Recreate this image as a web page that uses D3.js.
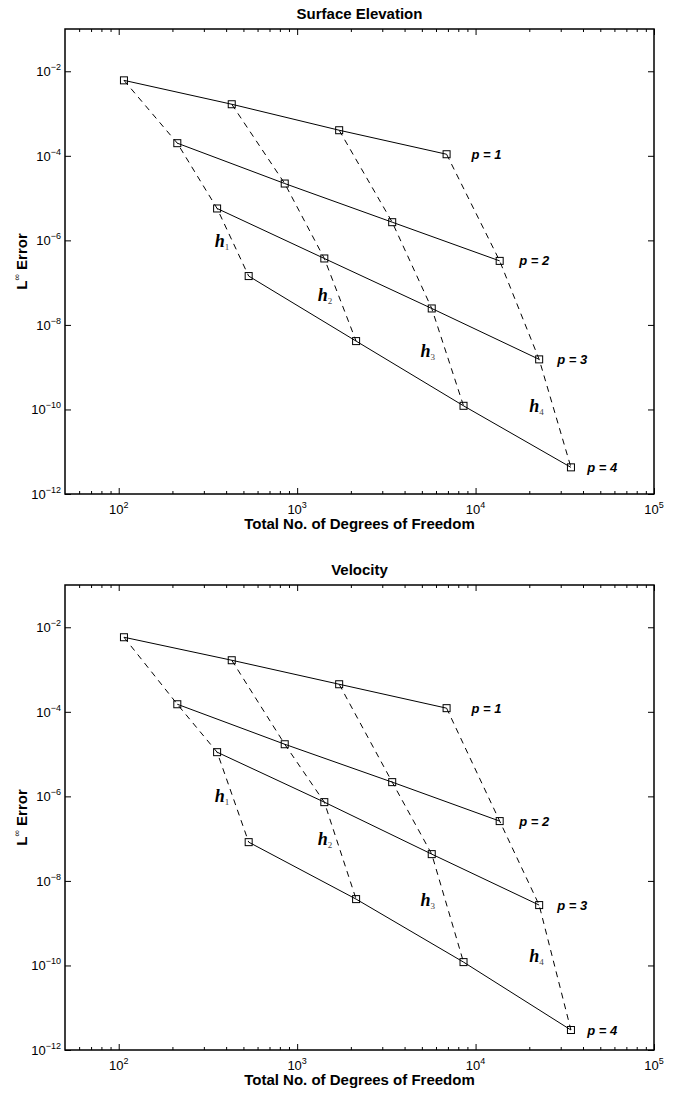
<!DOCTYPE html>
<html>
<head>
<meta charset="utf-8">
<script src="https://cdn.jsdelivr.net/npm/d3@7"></script>
<style>
  body { margin: 0; background: #fff; }
  text { fill: #000; }
</style>
</head>
<body>
<div id="canvas"></div>
<script>
// degrees of freedom for each order p (same meshes in both panels)
const dofP1 = [107, 430, 1720, 6880];
const dofP2 = [213, 852, 3410, 13650];
const dofP3 = [356, 1420, 5680, 22720];
const dofP4 = [535, 2140, 8560, 34240];

// surface elevation errors
const surfP1 = [6.1e-3, 1.66e-3, 4.03e-4, 1.09e-4];
const surfP2 = [1.99e-4, 2.21e-5, 2.69e-6, 3.27e-7];
const surfP3 = [5.68e-6, 3.73e-7, 2.45e-8, 1.53e-9];
const surfP4 = [1.43e-7, 4.14e-9, 1.22e-10, 4.27e-12];

// velocity errors
const velP1 = [5.81e-3, 1.66e-3, 4.49e-4, 1.22e-4];
const velP2 = [1.51e-4, 1.71e-5, 2.17e-6, 2.6e-7];
const velP3 = [1.11e-5, 7.3e-7, 4.3e-8, 2.68e-9];
const velP4 = [8.26e-8, 3.71e-9, 1.2e-10, 2.97e-12];

// annotation anchors (data coords)
const pLabels = ["p = 1", "p = 2", "p = 3", "p = 4"];
const pLabelX = [9480, 17580, 28700, 42240];
const hLabelX = [345, 1303, 4910, 20000];
const surfHLabelY = [9.06e-7, 4.8e-8, 2.28e-9, 1.14e-10];
const velHLabelY = [9.6e-7, 9.2e-8, 3.3e-9, 1.58e-10];

const xTickVals = [1e2, 1e3, 1e4, 1e5];
const xTickExp = ["2", "3", "4", "5"];
const yTickVals = [1e-2, 1e-4, 1e-6, 1e-8, 1e-10, 1e-12];
const yTickExp = ["\u22122", "\u22124", "\u22126", "\u22128", "\u221210", "\u221212"];

const W = 678, H = 1093;
const left = 65, right = 654, ph = 465;
const SANS = "'Liberation Sans', Arial, Helvetica, sans-serif";
const SERIF = "'Liberation Serif', 'Times New Roman', serif";

const svg = d3.select("#canvas").append("svg")
  .attr("width", W).attr("height", H)
  .style("font-family", SANS);
svg.append("rect").attr("width", W).attr("height", H).attr("fill", "#fff");

function panel(top, title, errs, hY) {
  const g = svg.append("g").attr("transform", `translate(0,${top})`);
  const x = d3.scaleLog().domain([50, 1e5]).range([left, right]);
  const y = d3.scaleLog().domain([1e-12, 1e-1]).range([ph, 0]);

  const minor = x.ticks().filter(v => Math.abs(Math.log10(v) % 1) > 1e-6 && v > 50 && v < 1e5);

  // ticks, pointing inwards on all four sides
  const ax = [
    [d3.axisBottom(x).tickValues(xTickVals).tickSize(-6), `translate(0,${ph})`],
    [d3.axisBottom(x).tickValues(minor).tickSize(-3), `translate(0,${ph})`],
    [d3.axisTop(x).tickValues(xTickVals).tickSize(-6), `translate(0,0)`],
    [d3.axisTop(x).tickValues(minor).tickSize(-3), `translate(0,0)`],
    [d3.axisLeft(y).tickValues(yTickVals).tickSize(-6), `translate(${left},0)`],
    [d3.axisRight(y).tickValues(yTickVals).tickSize(-6), `translate(${right},0)`]
  ];
  ax.forEach(([a, t]) => {
    const s = g.append("g").attr("transform", t).call(a.tickSizeOuter(0).tickFormat(""));
    s.select(".domain").remove();
    s.selectAll("line").attr("stroke", "#000").attr("stroke-width", 1);
  });

  g.append("rect")
    .attr("x", left).attr("y", 0)
    .attr("width", right - left).attr("height", ph)
    .attr("fill", "none").attr("stroke", "#000").attr("stroke-width", 1.5);

  // tick labels
  xTickVals.forEach((v, i) => {
    const t = g.append("text").attr("x", x(v)).attr("y", ph + 20)
      .attr("text-anchor", "middle").attr("font-size", 13);
    t.append("tspan").text("10");
    t.append("tspan").attr("dy", -6).attr("font-size", 9).text(xTickExp[i]);
  });
  yTickVals.forEach((v, i) => {
    const t = g.append("text").attr("x", left - 4).attr("y", y(v) + 5)
      .attr("text-anchor", "end").attr("font-size", 13);
    t.append("tspan").text("10");
    t.append("tspan").attr("dy", -6).attr("font-size", 9).text(yTickExp[i]);
  });

  // titles
  g.append("text").attr("x", (left + right) / 2).attr("y", -10)
    .attr("text-anchor", "middle").attr("font-size", 15).attr("font-weight", "bold")
    .text(title);
  g.append("text").attr("x", (left + right) / 2).attr("y", ph + 35)
    .attr("text-anchor", "middle").attr("font-size", 15).attr("font-weight", "bold")
    .text("Total No. of Degrees of Freedom");
  const yl = g.append("text")
    .attr("transform", `translate(27,${ph / 2}) rotate(-90)`)
    .attr("text-anchor", "middle").attr("font-size", 15).attr("font-weight", "bold");
  yl.append("tspan").text("L");
  yl.append("tspan").attr("dy", -7).attr("font-size", 9).attr("font-weight", "normal").text("\u221e");
  yl.append("tspan").attr("dy", 7).text(" Error");

  const dofs = [dofP1, dofP2, dofP3, dofP4];
  const line = d3.line().x(d => x(d[0])).y(d => y(d[1]));

  // dashed lines: same refinement level h_k across orders
  for (let k = 0; k < 4; k++) {
    const pts = dofs.map((d, i) => [d[k], errs[i][k]]);
    g.append("path").attr("d", line(pts))
      .attr("fill", "none").attr("stroke", "#000").attr("stroke-width", 1)
      .attr("stroke-dasharray", "6,5");
  }
  // solid lines: one per order p
  dofs.forEach((d, i) => {
    const pts = d.map((v, k) => [v, errs[i][k]]);
    g.append("path").attr("d", line(pts))
      .attr("fill", "none").attr("stroke", "#000").attr("stroke-width", 1);
    g.selectAll(null).data(pts).enter().append("rect")
      .attr("x", p => x(p[0]) - 3.5).attr("y", p => y(p[1]) - 3.5)
      .attr("width", 7).attr("height", 7)
      .attr("fill", "none").attr("stroke", "#000").attr("stroke-width", 1);
  });

  // p labels
  pLabels.forEach((s, i) => {
    g.append("text").attr("x", x(pLabelX[i])).attr("y", y(errs[i][3]) + 4.5)
      .attr("font-size", 13).attr("font-weight", "bold").attr("font-style", "italic")
      .text(s);
  });
  // h labels
  hLabelX.forEach((v, k) => {
    const t = g.append("text").attr("x", x(v)).attr("y", y(hY[k]) + 5)
      .style("font-family", SERIF);
    t.append("tspan").attr("font-size", 18).attr("font-weight", "bold")
      .attr("font-style", "italic").text("h");
    t.append("tspan").attr("dy", 3).attr("font-size", 9).attr("fill", "#444").text(k + 1);
  });
}

panel(29, "Surface Elevation", [surfP1, surfP2, surfP3, surfP4], surfHLabelY);
panel(585, "Velocity", [velP1, velP2, velP3, velP4], velHLabelY);
</script>
</body>
</html>
